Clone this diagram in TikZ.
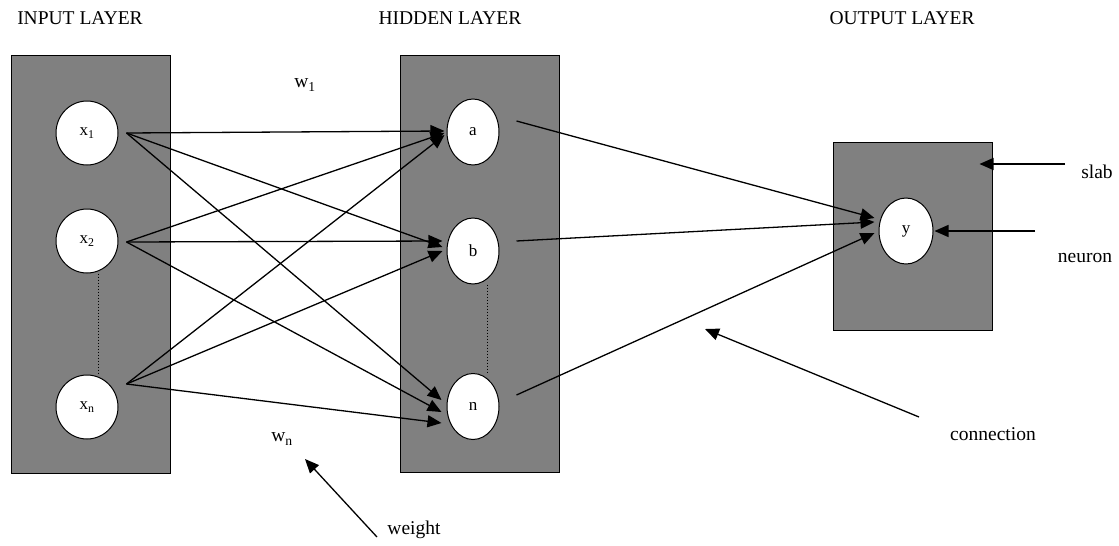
\documentclass[tikz,border=0pt]{standalone}
\usepackage{fontspec}
\setmainfont{Liberation Serif}
\usetikzlibrary{shapes.geometric,arrows.meta,calc}
\definecolor{slabgray}{RGB}{128,128,128}
\begin{document}
\begin{tikzpicture}[x=1pt,y=-1pt,
  slabbox/.style={draw=black,line width=1pt,fill=slabgray,rectangle,inner sep=0pt},
  neuronnode/.style={ellipse,draw=black,line width=1pt,fill=white,inner sep=0pt,font=\fontsize{17}{20}\selectfont},
  inneuron/.style={neuronnode,minimum width=62pt,minimum height=64pt},
  hidneuron/.style={neuronnode,minimum width=52pt,minimum height=66pt},
  outneuron/.style={neuronnode,minimum width=54pt,minimum height=66pt},
  title/.style={font=\fontsize{19.5}{22}\selectfont,inner sep=0pt},
  lbl/.style={font=\fontsize{19.5}{22}\selectfont,inner sep=0pt},
  conn/.style={line width=1.3pt,-{Triangle[length=14pt,width=12pt]}},
  dots/.style={dotted,line width=1pt}]
\useasboundingbox (0,0) rectangle (1119,546);

% titles
\node[title] (tin) at (80,18) {INPUT LAYER};
\node[title] (thid) at (450,18) {HIDDEN LAYER};
\node[title] (tout) at (902,18) {OUTPUT LAYER};

% slabs
\node[slabbox,minimum width=159pt,minimum height=418pt] (inbox) at (90.5,264) {};
\node[slabbox,minimum width=159pt,minimum height=417pt] (hidbox) at (479.5,263.5) {};
\node[slabbox,minimum width=159pt,minimum height=188pt] (outbox) at (912.5,236) {};

% neurons
\node[inneuron] (x1) at (87,133) {x\textsubscript{1}};
\node[inneuron] (x2) at (87,241) {x\textsubscript{2}};
\node[inneuron] (xn) at (87,407) {x\textsubscript{n}};
\node[hidneuron] (a) at (473,132) {a};
\node[hidneuron] (b) at (473,251) {b};
\node[hidneuron] (n) at (473,406.5) {n};
\node[outneuron] (y) at (906,231) {y};

% dotted continuation
\draw[dots] ($(x2.south)+(11,0)$) -- ($(xn.north)+(11,0)$);
\draw[dots] ($(b.south)+(14,0)$) -- ($(n.north)+(14,0)$);

% connector end points
\coordinate (x1o) at ($(x1.east)+(8,0)$);
\coordinate (x2o) at ($(x2.east)+(8,1)$);
\coordinate (xno) at ($(xn.east)+(8,-23)$);
\coordinate (ao) at ($(a.east)+(17,-11)$);
\coordinate (bo) at ($(b.east)+(17,-10)$);
\coordinate (no) at ($(n.east)+(17,-11.5)$);

\coordinate (ai1) at ($(a.west)+(-2,-1)$);
\coordinate (ai2) at ($(a.west)+(-2,1)$);
\coordinate (ai3) at ($(a.west)+(-2,3)$);
\coordinate (bi1) at ($(b.west)+(-4,-4)$);
\coordinate (bi2) at ($(b.west)+(-4,-10)$);
\coordinate (bi3) at ($(b.west)+(-4,0)$);
\coordinate (ni1) at ($(n.west)+(-5,-6.5)$);
\coordinate (ni2) at ($(n.west)+(-5,5.5)$);
\coordinate (ni3) at ($(n.west)+(-5,16.5)$);
\coordinate (yi1) at ($(y.west)+(-4,-13)$);
\coordinate (yi2) at ($(y.west)+(-4,-9)$);
\coordinate (yi3) at ($(y.west)+(-4,2)$);

% input -> hidden
\draw[conn] (x1o) -- (ai1);
\draw[conn] (x1o) -- (bi1);
\draw[conn] (x1o) -- (ni1);
\draw[conn] (x2o) -- (ai2);
\draw[conn] (x2o) -- (bi2);
\draw[conn] (x2o) -- (ni2);
\draw[conn] (xno) -- (ai3);
\draw[conn] (xno) -- (bi3);
\draw[conn] (xno) -- (ni3);

% hidden -> output
\draw[conn] (ao) -- (yi1);
\draw[conn] (bo) -- (yi2);
\draw[conn] (no) -- (yi3);

% weight labels
\node[lbl] (w1) at (305,85) {w\textsubscript{1}};
\node[lbl] (wn) at (282,439) {w\textsubscript{n}};

% annotations
\node[lbl] (slab) at (1097,172) {slab};
\node[lbl] (neuron) at (1085,258) {neuron};
\node[lbl] (connection) at (993,434) {connection};
\node[lbl] (weight) at (414,530) {weight};

\coordinate (slabtail) at (1065,164);
\coordinate (slabtip) at ($(outbox.east)+(-13,-72)$);
\coordinate (neurontail) at (1035,231);
\coordinate (neurontip) at ($(y.east)+(1,0)$);
\coordinate (conntail) at (919,417);
\coordinate (conntip) at (705,329);
\coordinate (weighttail) at (377,537);
\coordinate (weighttip) at (305,459);

\draw[conn] (slabtail) -- (slabtip);
\draw[conn] (neurontail) -- (neurontip);
\draw[conn] (conntail) -- (conntip);
\draw[conn] (weighttail) -- (weighttip);
\end{tikzpicture}
\end{document}
